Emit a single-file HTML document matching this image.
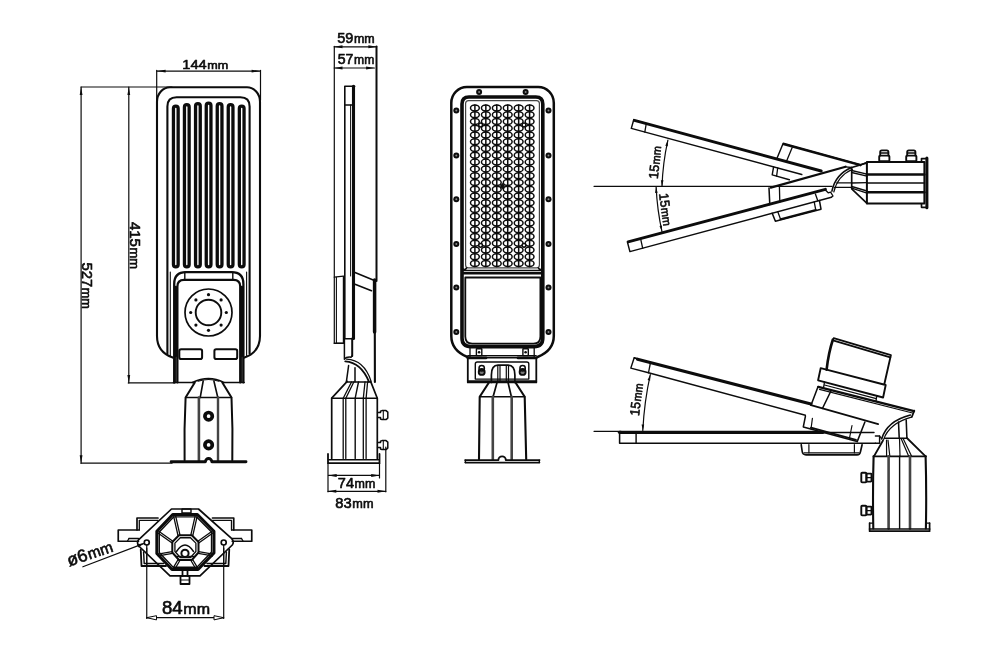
<!DOCTYPE html>
<html><head><meta charset="utf-8"><title>Street light dimensions</title>
<style>
html,body{margin:0;padding:0;background:#fff;}
body{width:1000px;height:654px;overflow:hidden;font-family:"Liberation Sans",sans-serif;}
svg{display:block;}
svg text{font-family:"Liberation Sans",sans-serif;fill:#0c0c0c;stroke:#0c0c0c;stroke-width:0.6px;}
svg{filter:grayscale(1);}
</style></head><body>
<svg width="1000" height="654" viewBox="0 0 1000 654" fill="none" stroke="#0c0c0c" stroke-linecap="round" stroke-linejoin="round">
<rect x="0" y="0" width="1000" height="654" fill="#fff" stroke="none"/>
<g id="v1">
<line x1="156.80" y1="71.10" x2="260.40" y2="71.10" stroke-width="1.2" />
<path d="M156.60,71.10 L165.60,69.70 L165.60,72.50 Z" fill="#0c0c0c" stroke="none"/>
<path d="M260.60,71.10 L251.60,72.50 L251.60,69.70 Z" fill="#0c0c0c" stroke="none"/>
<line x1="156.70" y1="70.40" x2="156.70" y2="100.00" stroke-width="1.2" />
<line x1="260.50" y1="70.40" x2="260.50" y2="100.00" stroke-width="1.2" />
<g class="txt"><text x="205.30" y="69.00" font-size="13.6" text-anchor="middle" textLength="46" lengthAdjust="spacingAndGlyphs" >144<tspan font-size="11.70" dx="0.6">mm</tspan></text></g>
<line x1="81.00" y1="87.00" x2="172.00" y2="87.00" stroke-width="1.2" />
<line x1="81.10" y1="87.00" x2="81.10" y2="463.20" stroke-width="1.2" />
<path d="M81.10,86.90 L82.50,94.90 L79.70,94.90 Z" fill="#0c0c0c" stroke="none"/>
<path d="M81.10,463.30 L79.70,455.30 L82.50,455.30 Z" fill="#0c0c0c" stroke="none"/>
<line x1="128.80" y1="87.00" x2="128.80" y2="382.90" stroke-width="1.2" />
<path d="M128.80,86.90 L130.20,94.90 L127.40,94.90 Z" fill="#0c0c0c" stroke="none"/>
<path d="M128.80,383.00 L127.40,375.00 L130.20,375.00 Z" fill="#0c0c0c" stroke="none"/>
<line x1="128.30" y1="382.90" x2="175.00" y2="382.90" stroke-width="1.2" />
<line x1="81.00" y1="463.20" x2="172.00" y2="463.20" stroke-width="1.2" />
<g class="txt"><text x="130.40" y="245.50" font-size="14.2" text-anchor="middle" transform="rotate(90 130.40 245.50)" textLength="47" lengthAdjust="spacingAndGlyphs" >415<tspan font-size="12.21" dx="0.6">mm</tspan></text></g>
<g class="txt"><text x="81.90" y="285.70" font-size="14.2" text-anchor="middle" transform="rotate(90 81.90 285.70)" textLength="46.5" lengthAdjust="spacingAndGlyphs" >527<tspan font-size="12.21" dx="0.6">mm</tspan></text></g>
<path d="M170,87.3 H247 A13,14.5 0 0 1 260,101.8 V336 Q260,352 244.5,357.6 M172.7,357.6 Q157,352 157,336 V101.8 A13,14.5 0 0 1 170,87.3" stroke-width="2.1" />
<path d="M167.4,353.5 V106.5 Q167.4,97.3 176.6,97.3 H240.4 Q249.6,97.3 249.6,106.5 V353.5" stroke-width="2.1" />
<path d="M170.3,355.5 V272 M246.6,355.5 V272" stroke-width="1.1" />
<rect x="173.45" y="106.15" width="4.70" height="160.70" rx="2.35" ry="2.35" stroke-width="3.3" />
<rect x="184.45" y="104.65" width="4.70" height="162.20" rx="2.35" ry="2.35" stroke-width="3.3" />
<rect x="195.55" y="103.65" width="4.70" height="163.20" rx="2.35" ry="2.35" stroke-width="3.3" />
<rect x="206.25" y="103.15" width="4.70" height="163.70" rx="2.35" ry="2.35" stroke-width="3.3" />
<rect x="217.25" y="103.65" width="4.70" height="163.20" rx="2.35" ry="2.35" stroke-width="3.3" />
<rect x="228.25" y="104.65" width="4.70" height="162.20" rx="2.35" ry="2.35" stroke-width="3.3" />
<rect x="239.35" y="106.15" width="4.70" height="160.70" rx="2.35" ry="2.35" stroke-width="3.3" />
<path d="M174.2,382.4 V284 Q174.2,272.2 186,272.2 H231.6 Q243.4,272.2 243.4,284 V382.4" stroke-width="2.3" />
<path d="M177.4,382.4 V286.5 Q177.4,279.9 184,279.9 H233.6 Q240.2,279.9 240.2,286.5 V382.4" stroke-width="2.2" />
<path d="M175.8,287 V356 M241.8,287 V356" stroke-width="2.4" />
<path d="M175.8,356 V382.4 M241.8,356 V382.4" stroke-width="1.4" />
<line x1="184.80" y1="272.20" x2="184.80" y2="279.90" stroke-width="1.4" />
<line x1="232.80" y1="272.20" x2="232.80" y2="279.90" stroke-width="1.4" />
<circle cx="208.50" cy="312.50" r="23.5" stroke-width="1.7" />
<circle cx="208.50" cy="312.50" r="12.8" stroke-width="1.9" />
<circle cx="226.30" cy="312.50" r="1.6" fill="#0c0c0c" stroke="none"/>
<circle cx="221.09" cy="325.09" r="1.6" fill="#0c0c0c" stroke="none"/>
<circle cx="208.50" cy="330.30" r="1.6" fill="#0c0c0c" stroke="none"/>
<circle cx="195.91" cy="325.09" r="1.6" fill="#0c0c0c" stroke="none"/>
<circle cx="190.70" cy="312.50" r="1.6" fill="#0c0c0c" stroke="none"/>
<circle cx="195.91" cy="299.91" r="1.6" fill="#0c0c0c" stroke="none"/>
<circle cx="208.50" cy="294.70" r="1.6" fill="#0c0c0c" stroke="none"/>
<circle cx="221.09" cy="299.91" r="1.6" fill="#0c0c0c" stroke="none"/>
<rect x="179.30" y="349.20" width="22.80" height="9.80" rx="1.8" ry="1.8" stroke-width="2.0" />
<rect x="214.40" y="349.20" width="22.80" height="9.80" rx="1.8" ry="1.8" stroke-width="2.0" />
<line x1="224.30" y1="382.60" x2="244.20" y2="382.60" stroke-width="1.5" />
<line x1="173.40" y1="382.60" x2="193.00" y2="382.60" stroke-width="1.5" />
<path d="M192.5,382.4 Q208.6,374.6 223.9,382.4" stroke-width="1.7" />
<path d="M198,381.2 Q208.6,377.8 219,381.2" stroke-width="1.1" />
<path d="M194.8,382.4 L185.6,397.5 Q184,430 184.6,460.2 M222.3,382.4 L231.5,397.5 Q233,430 232.3,460.2" stroke-width="2.0" />
<line x1="185.60" y1="397.50" x2="231.50" y2="397.50" stroke-width="1.5" />
<path d="M203.2,381 L200.2,397.5 M213.9,381 L217.8,397.5" stroke-width="1.6" />
<line x1="198.90" y1="397.50" x2="198.90" y2="460.40" stroke-width="2.6" stroke="#444"/>
<line x1="218.00" y1="397.50" x2="218.00" y2="460.40" stroke-width="2.4" stroke="#444"/>
<circle cx="208.60" cy="416.20" r="3.7" stroke-width="3.7" />
<circle cx="208.60" cy="444.90" r="3.7" stroke-width="3.7" />
<path d="M171.1,461.7 H205.4 A3.2,3.2 0 0 1 211.8,461.7 H246" stroke-width="2.9" />
</g>
<g id="v2">
<g class="txt"><text x="356.00" y="42.60" font-size="13.8" text-anchor="middle" textLength="37.5" lengthAdjust="spacingAndGlyphs" >59<tspan font-size="11.87" dx="0.6">mm</tspan></text></g>
<line x1="334.20" y1="46.80" x2="376.70" y2="46.80" stroke-width="1.2" />
<path d="M334.00,46.80 L342.50,45.30 L342.50,48.30 Z" fill="#0c0c0c" stroke="none"/>
<path d="M376.90,46.80 L368.40,48.30 L368.40,45.30 Z" fill="#0c0c0c" stroke="none"/>
<g class="txt"><text x="356.00" y="63.80" font-size="13.8" text-anchor="middle" textLength="36.5" lengthAdjust="spacingAndGlyphs" >57<tspan font-size="11.87" dx="0.6">mm</tspan></text></g>
<line x1="334.20" y1="68.00" x2="374.40" y2="68.00" stroke-width="1.2" />
<path d="M334.00,68.00 L342.50,66.50 L342.50,69.50 Z" fill="#0c0c0c" stroke="none"/>
<path d="M374.60,68.00 L366.10,69.50 L366.10,66.50 Z" fill="#0c0c0c" stroke="none"/>
<line x1="334.30" y1="46.40" x2="334.30" y2="343.20" stroke-width="1.2" />
<line x1="376.50" y1="46.40" x2="376.50" y2="281.00" stroke-width="2.0" />
<path d="M344.8,338.5 V86.3 H354.6" stroke-width="1.6" />
<line x1="353.50" y1="86.30" x2="353.50" y2="338.50" stroke-width="3.1" />
<line x1="344.80" y1="104.90" x2="352.50" y2="104.90" stroke-width="1.5" />
<line x1="350.60" y1="105.00" x2="350.60" y2="276.00" stroke-width="1.0" />
<path d="M334.3,277.2 L343.4,276.2" stroke-width="1.3" />
<path d="M336.4,277.2 V343.2 H343.4" stroke-width="1.1" />
<line x1="343.40" y1="276.40" x2="343.40" y2="343.20" stroke-width="1.2" />
<line x1="334.30" y1="343.20" x2="343.40" y2="343.20" stroke-width="1.6" />
<path d="M344.4,338.5 V359.2 Q346.5,356.5 351,357.2 L352.3,355.5" stroke-width="1.5" />
<line x1="352.20" y1="338.50" x2="352.20" y2="356.00" stroke-width="2.0" />
<line x1="344.40" y1="338.70" x2="353.50" y2="338.70" stroke-width="1.4" />
<path d="M355,272.5 L373.2,280 M355,284.3 L371.5,290.7" stroke-width="1.6" />
<line x1="374.60" y1="280.00" x2="374.60" y2="332.00" stroke-width="3.5" />
<line x1="374.80" y1="330.00" x2="374.90" y2="382.00" stroke-width="2.1" />
<path d="M345.3,361.4 Q361,362.5 368.9,381.7" stroke-width="1.9" />
<path d="M346.6,359.2 Q364,360 371,381" stroke-width="1.2" />
<path d="M348.6,365.6 L346.4,381.7 M355,367.8 V381.7" stroke-width="1.5" />
<path d="M346.4,382 H371" stroke-width="1.5" />
<path d="M347.2,381.4 L331.7,398.2 V458.5 M370.6,381.4 L377.3,398.2 V458.5" stroke-width="1.7" />
<line x1="331.70" y1="398.20" x2="377.30" y2="398.20" stroke-width="1.6" />
<path d="M351.5,382 L343.2,398.2 V458.5 M353.8,382 L345.8,398.2 V458.5" stroke-width="1.3" />
<path d="M358.5,382 L355.2,398.2 V458.5" stroke-width="1.4" />
<path d="M365,382 L363.3,398.2 V458.5 M367.6,382 L366.1,398.2 V458.5" stroke-width="1.3" />
<path d="M328,454 V463.2 H379.5 V454" stroke-width="1.8" />
<line x1="329.00" y1="459.80" x2="378.50" y2="459.80" stroke-width="1.6" />
<path d="M377.6,412.6 H380.5 V411.20000000000005 L382,410.6 H386 L387.8,412.1 V418.1 L386,419.6 H382 L380.5,419.0 V417.6 H377.6" stroke-width="1.5" />
<line x1="383.30" y1="410.90" x2="383.30" y2="419.30" stroke-width="1.1" />
<path d="M377.6,442.6 H380.5 V441.20000000000005 L382,440.6 H386 L387.8,442.1 V448.1 L386,449.6 H382 L380.5,449.0 V447.6 H377.6" stroke-width="1.5" />
<line x1="383.30" y1="440.90" x2="383.30" y2="449.30" stroke-width="1.1" />
<line x1="328.00" y1="463.20" x2="328.00" y2="491.80" stroke-width="1.2" />
<line x1="379.50" y1="463.20" x2="379.50" y2="478.00" stroke-width="1.2" />
<line x1="385.80" y1="447.00" x2="385.80" y2="491.80" stroke-width="1.2" />
<line x1="328.50" y1="475.40" x2="379.50" y2="475.40" stroke-width="1.2" />
<path d="M328.20,475.40 L336.70,473.90 L336.70,476.90 Z" fill="#0c0c0c" stroke="none"/>
<path d="M379.70,475.40 L371.20,476.90 L371.20,473.90 Z" fill="#0c0c0c" stroke="none"/>
<line x1="328.00" y1="491.30" x2="385.80" y2="491.30" stroke-width="1.2" />
<path d="M327.80,491.30 L336.30,489.80 L336.30,492.80 Z" fill="#0c0c0c" stroke="none"/>
<path d="M386.00,491.30 L377.50,492.80 L377.50,489.80 Z" fill="#0c0c0c" stroke="none"/>
<g class="txt"><text x="356.60" y="487.90" font-size="14.2" text-anchor="middle" textLength="37.5" lengthAdjust="spacingAndGlyphs" >74<tspan font-size="12.21" dx="0.6">mm</tspan></text></g>
<g class="txt"><text x="354.40" y="507.90" font-size="14.2" text-anchor="middle" textLength="38.2" lengthAdjust="spacingAndGlyphs" >83<tspan font-size="12.21" dx="0.6">mm</tspan></text></g>
</g>
<g id="v3">
<path d="M467,86.9 H538.2 A15.6,16 0 0 1 553.8,102.9 V336 Q553.8,350.5 537.5,357 M467.5,357 Q451.3,350.5 451.3,336 V102.9 A15.6,16 0 0 1 467,86.9" stroke-width="2.5" />
<path d="M462,338 V104 Q462,97 469,97 H535.8 Q542.8,97 542.8,104 V338 Q542.8,346.6 534,346.6 H471 Q462,346.6 462,338 Z" stroke-width="3.6" />
<path d="M465.6,265 V103.6 Q465.6,100.6 468.6,100.6 H536.4 Q539.4,100.6 539.4,103.6 V265 Q539.4,267.8 536.6,267.8 H468.4 Q465.6,267.8 465.6,265 Z" stroke-width="1.2" stroke="#444"/>
<g stroke-width="1.5"><ellipse cx="474.90" cy="108.00" rx="4.4" ry="3.0"/><path d="M474.90,105.00 V111.00"/><ellipse cx="485.84" cy="108.00" rx="4.4" ry="3.0"/><path d="M485.84,105.00 V111.00"/><ellipse cx="496.78" cy="108.00" rx="4.4" ry="3.0"/><path d="M496.78,105.00 V111.00"/><ellipse cx="507.72" cy="108.00" rx="4.4" ry="3.0"/><path d="M507.72,105.00 V111.00"/><ellipse cx="518.66" cy="108.00" rx="4.4" ry="3.0"/><path d="M518.66,105.00 V111.00"/><ellipse cx="529.60" cy="108.00" rx="4.4" ry="3.0"/><path d="M529.60,105.00 V111.00"/><ellipse cx="474.90" cy="114.77" rx="4.4" ry="3.0"/><path d="M474.90,111.77 V117.77"/><ellipse cx="485.84" cy="114.77" rx="4.4" ry="3.0"/><path d="M485.84,111.77 V117.77"/><ellipse cx="496.78" cy="114.77" rx="4.4" ry="3.0"/><path d="M496.78,111.77 V117.77"/><ellipse cx="507.72" cy="114.77" rx="4.4" ry="3.0"/><path d="M507.72,111.77 V117.77"/><ellipse cx="518.66" cy="114.77" rx="4.4" ry="3.0"/><path d="M518.66,111.77 V117.77"/><ellipse cx="529.60" cy="114.77" rx="4.4" ry="3.0"/><path d="M529.60,111.77 V117.77"/><ellipse cx="474.90" cy="121.53" rx="4.4" ry="3.0"/><path d="M474.90,118.53 V124.53"/><ellipse cx="485.84" cy="121.53" rx="4.4" ry="3.0"/><path d="M485.84,118.53 V124.53"/><ellipse cx="496.78" cy="121.53" rx="4.4" ry="3.0"/><path d="M496.78,118.53 V124.53"/><ellipse cx="507.72" cy="121.53" rx="4.4" ry="3.0"/><path d="M507.72,118.53 V124.53"/><ellipse cx="518.66" cy="121.53" rx="4.4" ry="3.0"/><path d="M518.66,118.53 V124.53"/><ellipse cx="529.60" cy="121.53" rx="4.4" ry="3.0"/><path d="M529.60,118.53 V124.53"/><ellipse cx="474.90" cy="128.29" rx="4.4" ry="3.0"/><path d="M474.90,125.29 V131.29"/><ellipse cx="485.84" cy="128.29" rx="4.4" ry="3.0"/><path d="M485.84,125.29 V131.29"/><ellipse cx="496.78" cy="128.29" rx="4.4" ry="3.0"/><path d="M496.78,125.29 V131.29"/><ellipse cx="507.72" cy="128.29" rx="4.4" ry="3.0"/><path d="M507.72,125.29 V131.29"/><ellipse cx="518.66" cy="128.29" rx="4.4" ry="3.0"/><path d="M518.66,125.29 V131.29"/><ellipse cx="529.60" cy="128.29" rx="4.4" ry="3.0"/><path d="M529.60,125.29 V131.29"/><ellipse cx="474.90" cy="135.06" rx="4.4" ry="3.0"/><path d="M474.90,132.06 V138.06"/><ellipse cx="485.84" cy="135.06" rx="4.4" ry="3.0"/><path d="M485.84,132.06 V138.06"/><ellipse cx="496.78" cy="135.06" rx="4.4" ry="3.0"/><path d="M496.78,132.06 V138.06"/><ellipse cx="507.72" cy="135.06" rx="4.4" ry="3.0"/><path d="M507.72,132.06 V138.06"/><ellipse cx="518.66" cy="135.06" rx="4.4" ry="3.0"/><path d="M518.66,132.06 V138.06"/><ellipse cx="529.60" cy="135.06" rx="4.4" ry="3.0"/><path d="M529.60,132.06 V138.06"/><ellipse cx="474.90" cy="141.82" rx="4.4" ry="3.0"/><path d="M474.90,138.82 V144.82"/><ellipse cx="485.84" cy="141.82" rx="4.4" ry="3.0"/><path d="M485.84,138.82 V144.82"/><ellipse cx="496.78" cy="141.82" rx="4.4" ry="3.0"/><path d="M496.78,138.82 V144.82"/><ellipse cx="507.72" cy="141.82" rx="4.4" ry="3.0"/><path d="M507.72,138.82 V144.82"/><ellipse cx="518.66" cy="141.82" rx="4.4" ry="3.0"/><path d="M518.66,138.82 V144.82"/><ellipse cx="529.60" cy="141.82" rx="4.4" ry="3.0"/><path d="M529.60,138.82 V144.82"/><ellipse cx="474.90" cy="148.59" rx="4.4" ry="3.0"/><path d="M474.90,145.59 V151.59"/><ellipse cx="485.84" cy="148.59" rx="4.4" ry="3.0"/><path d="M485.84,145.59 V151.59"/><ellipse cx="496.78" cy="148.59" rx="4.4" ry="3.0"/><path d="M496.78,145.59 V151.59"/><ellipse cx="507.72" cy="148.59" rx="4.4" ry="3.0"/><path d="M507.72,145.59 V151.59"/><ellipse cx="518.66" cy="148.59" rx="4.4" ry="3.0"/><path d="M518.66,145.59 V151.59"/><ellipse cx="529.60" cy="148.59" rx="4.4" ry="3.0"/><path d="M529.60,145.59 V151.59"/><ellipse cx="474.90" cy="155.35" rx="4.4" ry="3.0"/><path d="M474.90,152.35 V158.35"/><ellipse cx="485.84" cy="155.35" rx="4.4" ry="3.0"/><path d="M485.84,152.35 V158.35"/><ellipse cx="496.78" cy="155.35" rx="4.4" ry="3.0"/><path d="M496.78,152.35 V158.35"/><ellipse cx="507.72" cy="155.35" rx="4.4" ry="3.0"/><path d="M507.72,152.35 V158.35"/><ellipse cx="518.66" cy="155.35" rx="4.4" ry="3.0"/><path d="M518.66,152.35 V158.35"/><ellipse cx="529.60" cy="155.35" rx="4.4" ry="3.0"/><path d="M529.60,152.35 V158.35"/><ellipse cx="474.90" cy="162.12" rx="4.4" ry="3.0"/><path d="M474.90,159.12 V165.12"/><ellipse cx="485.84" cy="162.12" rx="4.4" ry="3.0"/><path d="M485.84,159.12 V165.12"/><ellipse cx="496.78" cy="162.12" rx="4.4" ry="3.0"/><path d="M496.78,159.12 V165.12"/><ellipse cx="507.72" cy="162.12" rx="4.4" ry="3.0"/><path d="M507.72,159.12 V165.12"/><ellipse cx="518.66" cy="162.12" rx="4.4" ry="3.0"/><path d="M518.66,159.12 V165.12"/><ellipse cx="529.60" cy="162.12" rx="4.4" ry="3.0"/><path d="M529.60,159.12 V165.12"/><ellipse cx="474.90" cy="168.88" rx="4.4" ry="3.0"/><path d="M474.90,165.88 V171.88"/><ellipse cx="485.84" cy="168.88" rx="4.4" ry="3.0"/><path d="M485.84,165.88 V171.88"/><ellipse cx="496.78" cy="168.88" rx="4.4" ry="3.0"/><path d="M496.78,165.88 V171.88"/><ellipse cx="507.72" cy="168.88" rx="4.4" ry="3.0"/><path d="M507.72,165.88 V171.88"/><ellipse cx="518.66" cy="168.88" rx="4.4" ry="3.0"/><path d="M518.66,165.88 V171.88"/><ellipse cx="529.60" cy="168.88" rx="4.4" ry="3.0"/><path d="M529.60,165.88 V171.88"/><ellipse cx="474.90" cy="175.65" rx="4.4" ry="3.0"/><path d="M474.90,172.65 V178.65"/><ellipse cx="485.84" cy="175.65" rx="4.4" ry="3.0"/><path d="M485.84,172.65 V178.65"/><ellipse cx="496.78" cy="175.65" rx="4.4" ry="3.0"/><path d="M496.78,172.65 V178.65"/><ellipse cx="507.72" cy="175.65" rx="4.4" ry="3.0"/><path d="M507.72,172.65 V178.65"/><ellipse cx="518.66" cy="175.65" rx="4.4" ry="3.0"/><path d="M518.66,172.65 V178.65"/><ellipse cx="529.60" cy="175.65" rx="4.4" ry="3.0"/><path d="M529.60,172.65 V178.65"/><ellipse cx="474.90" cy="182.41" rx="4.4" ry="3.0"/><path d="M474.90,179.41 V185.41"/><ellipse cx="485.84" cy="182.41" rx="4.4" ry="3.0"/><path d="M485.84,179.41 V185.41"/><ellipse cx="496.78" cy="182.41" rx="4.4" ry="3.0"/><path d="M496.78,179.41 V185.41"/><ellipse cx="507.72" cy="182.41" rx="4.4" ry="3.0"/><path d="M507.72,179.41 V185.41"/><ellipse cx="518.66" cy="182.41" rx="4.4" ry="3.0"/><path d="M518.66,179.41 V185.41"/><ellipse cx="529.60" cy="182.41" rx="4.4" ry="3.0"/><path d="M529.60,179.41 V185.41"/><ellipse cx="474.90" cy="189.18" rx="4.4" ry="3.0"/><path d="M474.90,186.18 V192.18"/><ellipse cx="485.84" cy="189.18" rx="4.4" ry="3.0"/><path d="M485.84,186.18 V192.18"/><ellipse cx="496.78" cy="189.18" rx="4.4" ry="3.0"/><path d="M496.78,186.18 V192.18"/><ellipse cx="507.72" cy="189.18" rx="4.4" ry="3.0"/><path d="M507.72,186.18 V192.18"/><ellipse cx="518.66" cy="189.18" rx="4.4" ry="3.0"/><path d="M518.66,186.18 V192.18"/><ellipse cx="529.60" cy="189.18" rx="4.4" ry="3.0"/><path d="M529.60,186.18 V192.18"/><ellipse cx="474.90" cy="195.94" rx="4.4" ry="3.0"/><path d="M474.90,192.94 V198.94"/><ellipse cx="485.84" cy="195.94" rx="4.4" ry="3.0"/><path d="M485.84,192.94 V198.94"/><ellipse cx="496.78" cy="195.94" rx="4.4" ry="3.0"/><path d="M496.78,192.94 V198.94"/><ellipse cx="507.72" cy="195.94" rx="4.4" ry="3.0"/><path d="M507.72,192.94 V198.94"/><ellipse cx="518.66" cy="195.94" rx="4.4" ry="3.0"/><path d="M518.66,192.94 V198.94"/><ellipse cx="529.60" cy="195.94" rx="4.4" ry="3.0"/><path d="M529.60,192.94 V198.94"/><ellipse cx="474.90" cy="202.71" rx="4.4" ry="3.0"/><path d="M474.90,199.71 V205.71"/><ellipse cx="485.84" cy="202.71" rx="4.4" ry="3.0"/><path d="M485.84,199.71 V205.71"/><ellipse cx="496.78" cy="202.71" rx="4.4" ry="3.0"/><path d="M496.78,199.71 V205.71"/><ellipse cx="507.72" cy="202.71" rx="4.4" ry="3.0"/><path d="M507.72,199.71 V205.71"/><ellipse cx="518.66" cy="202.71" rx="4.4" ry="3.0"/><path d="M518.66,199.71 V205.71"/><ellipse cx="529.60" cy="202.71" rx="4.4" ry="3.0"/><path d="M529.60,199.71 V205.71"/><ellipse cx="474.90" cy="209.47" rx="4.4" ry="3.0"/><path d="M474.90,206.47 V212.47"/><ellipse cx="485.84" cy="209.47" rx="4.4" ry="3.0"/><path d="M485.84,206.47 V212.47"/><ellipse cx="496.78" cy="209.47" rx="4.4" ry="3.0"/><path d="M496.78,206.47 V212.47"/><ellipse cx="507.72" cy="209.47" rx="4.4" ry="3.0"/><path d="M507.72,206.47 V212.47"/><ellipse cx="518.66" cy="209.47" rx="4.4" ry="3.0"/><path d="M518.66,206.47 V212.47"/><ellipse cx="529.60" cy="209.47" rx="4.4" ry="3.0"/><path d="M529.60,206.47 V212.47"/><ellipse cx="474.90" cy="216.24" rx="4.4" ry="3.0"/><path d="M474.90,213.24 V219.24"/><ellipse cx="485.84" cy="216.24" rx="4.4" ry="3.0"/><path d="M485.84,213.24 V219.24"/><ellipse cx="496.78" cy="216.24" rx="4.4" ry="3.0"/><path d="M496.78,213.24 V219.24"/><ellipse cx="507.72" cy="216.24" rx="4.4" ry="3.0"/><path d="M507.72,213.24 V219.24"/><ellipse cx="518.66" cy="216.24" rx="4.4" ry="3.0"/><path d="M518.66,213.24 V219.24"/><ellipse cx="529.60" cy="216.24" rx="4.4" ry="3.0"/><path d="M529.60,213.24 V219.24"/><ellipse cx="474.90" cy="223.00" rx="4.4" ry="3.0"/><path d="M474.90,220.00 V226.00"/><ellipse cx="485.84" cy="223.00" rx="4.4" ry="3.0"/><path d="M485.84,220.00 V226.00"/><ellipse cx="496.78" cy="223.00" rx="4.4" ry="3.0"/><path d="M496.78,220.00 V226.00"/><ellipse cx="507.72" cy="223.00" rx="4.4" ry="3.0"/><path d="M507.72,220.00 V226.00"/><ellipse cx="518.66" cy="223.00" rx="4.4" ry="3.0"/><path d="M518.66,220.00 V226.00"/><ellipse cx="529.60" cy="223.00" rx="4.4" ry="3.0"/><path d="M529.60,220.00 V226.00"/><ellipse cx="474.90" cy="229.77" rx="4.4" ry="3.0"/><path d="M474.90,226.77 V232.77"/><ellipse cx="485.84" cy="229.77" rx="4.4" ry="3.0"/><path d="M485.84,226.77 V232.77"/><ellipse cx="496.78" cy="229.77" rx="4.4" ry="3.0"/><path d="M496.78,226.77 V232.77"/><ellipse cx="507.72" cy="229.77" rx="4.4" ry="3.0"/><path d="M507.72,226.77 V232.77"/><ellipse cx="518.66" cy="229.77" rx="4.4" ry="3.0"/><path d="M518.66,226.77 V232.77"/><ellipse cx="529.60" cy="229.77" rx="4.4" ry="3.0"/><path d="M529.60,226.77 V232.77"/><ellipse cx="474.90" cy="236.53" rx="4.4" ry="3.0"/><path d="M474.90,233.53 V239.53"/><ellipse cx="485.84" cy="236.53" rx="4.4" ry="3.0"/><path d="M485.84,233.53 V239.53"/><ellipse cx="496.78" cy="236.53" rx="4.4" ry="3.0"/><path d="M496.78,233.53 V239.53"/><ellipse cx="507.72" cy="236.53" rx="4.4" ry="3.0"/><path d="M507.72,233.53 V239.53"/><ellipse cx="518.66" cy="236.53" rx="4.4" ry="3.0"/><path d="M518.66,233.53 V239.53"/><ellipse cx="529.60" cy="236.53" rx="4.4" ry="3.0"/><path d="M529.60,233.53 V239.53"/><ellipse cx="474.90" cy="243.30" rx="4.4" ry="3.0"/><path d="M474.90,240.30 V246.30"/><ellipse cx="485.84" cy="243.30" rx="4.4" ry="3.0"/><path d="M485.84,240.30 V246.30"/><ellipse cx="496.78" cy="243.30" rx="4.4" ry="3.0"/><path d="M496.78,240.30 V246.30"/><ellipse cx="507.72" cy="243.30" rx="4.4" ry="3.0"/><path d="M507.72,240.30 V246.30"/><ellipse cx="518.66" cy="243.30" rx="4.4" ry="3.0"/><path d="M518.66,240.30 V246.30"/><ellipse cx="529.60" cy="243.30" rx="4.4" ry="3.0"/><path d="M529.60,240.30 V246.30"/><ellipse cx="474.90" cy="250.06" rx="4.4" ry="3.0"/><path d="M474.90,247.06 V253.06"/><ellipse cx="485.84" cy="250.06" rx="4.4" ry="3.0"/><path d="M485.84,247.06 V253.06"/><ellipse cx="496.78" cy="250.06" rx="4.4" ry="3.0"/><path d="M496.78,247.06 V253.06"/><ellipse cx="507.72" cy="250.06" rx="4.4" ry="3.0"/><path d="M507.72,247.06 V253.06"/><ellipse cx="518.66" cy="250.06" rx="4.4" ry="3.0"/><path d="M518.66,247.06 V253.06"/><ellipse cx="529.60" cy="250.06" rx="4.4" ry="3.0"/><path d="M529.60,247.06 V253.06"/><ellipse cx="474.90" cy="256.83" rx="4.4" ry="3.0"/><path d="M474.90,253.83 V259.83"/><ellipse cx="485.84" cy="256.83" rx="4.4" ry="3.0"/><path d="M485.84,253.83 V259.83"/><ellipse cx="496.78" cy="256.83" rx="4.4" ry="3.0"/><path d="M496.78,253.83 V259.83"/><ellipse cx="507.72" cy="256.83" rx="4.4" ry="3.0"/><path d="M507.72,253.83 V259.83"/><ellipse cx="518.66" cy="256.83" rx="4.4" ry="3.0"/><path d="M518.66,253.83 V259.83"/><ellipse cx="529.60" cy="256.83" rx="4.4" ry="3.0"/><path d="M529.60,253.83 V259.83"/><ellipse cx="474.90" cy="263.60" rx="4.4" ry="3.0"/><path d="M474.90,260.60 V266.60"/><ellipse cx="485.84" cy="263.60" rx="4.4" ry="3.0"/><path d="M485.84,260.60 V266.60"/><ellipse cx="496.78" cy="263.60" rx="4.4" ry="3.0"/><path d="M496.78,260.60 V266.60"/><ellipse cx="507.72" cy="263.60" rx="4.4" ry="3.0"/><path d="M507.72,260.60 V266.60"/><ellipse cx="518.66" cy="263.60" rx="4.4" ry="3.0"/><path d="M518.66,260.60 V266.60"/><ellipse cx="529.60" cy="263.60" rx="4.4" ry="3.0"/><path d="M529.60,260.60 V266.60"/></g>
<circle cx="480.6" cy="125" r="1.9" fill="#fff" stroke-width="1.5"/>
<circle cx="524" cy="125" r="1.9" fill="#fff" stroke-width="1.5"/>
<circle cx="480.6" cy="245.3" r="1.9" fill="#fff" stroke-width="1.5"/>
<circle cx="524" cy="245.3" r="1.9" fill="#fff" stroke-width="1.5"/>
<path d="M499.8,186.2 H504.8 M502.3,183.7 V188.7 M500.6,184.5 L504,187.9 M504,184.5 L500.6,187.9" stroke-width="1.3"/>
<line x1="463.00" y1="270.40" x2="541.80" y2="270.40" stroke-width="1.3" />
<line x1="463.00" y1="273.10" x2="541.80" y2="273.10" stroke-width="2.6" />
<path d="M463.5,269 Q465,270.5 466.5,268 M541.3,269 Q540,270.5 538.5,268" stroke-width="1.6" />
<path d="M465.3,277.5 H540.4 V336.5 Q540.4,343.6 533.5,343.6 H472.2 Q465.3,343.6 465.3,336.5 Z" stroke-width="1.8" />
<circle cx="456.3" cy="110.4" r="3.0" fill="#0c0c0c" stroke="none"/><circle cx="456.3" cy="110.4" r="1.0" fill="#888" stroke="none"/>
<circle cx="548.5" cy="110.4" r="3.0" fill="#0c0c0c" stroke="none"/><circle cx="548.5" cy="110.4" r="1.0" fill="#888" stroke="none"/>
<circle cx="456.3" cy="155.6" r="3.0" fill="#0c0c0c" stroke="none"/><circle cx="456.3" cy="155.6" r="1.0" fill="#888" stroke="none"/>
<circle cx="548.5" cy="155.6" r="3.0" fill="#0c0c0c" stroke="none"/><circle cx="548.5" cy="155.6" r="1.0" fill="#888" stroke="none"/>
<circle cx="456.3" cy="199.2" r="3.0" fill="#0c0c0c" stroke="none"/><circle cx="456.3" cy="199.2" r="1.0" fill="#888" stroke="none"/>
<circle cx="548.5" cy="199.2" r="3.0" fill="#0c0c0c" stroke="none"/><circle cx="548.5" cy="199.2" r="1.0" fill="#888" stroke="none"/>
<circle cx="456.3" cy="244" r="3.0" fill="#0c0c0c" stroke="none"/><circle cx="456.3" cy="244" r="1.0" fill="#888" stroke="none"/>
<circle cx="548.5" cy="244" r="3.0" fill="#0c0c0c" stroke="none"/><circle cx="548.5" cy="244" r="1.0" fill="#888" stroke="none"/>
<circle cx="456.3" cy="287.6" r="3.0" fill="#0c0c0c" stroke="none"/><circle cx="456.3" cy="287.6" r="1.0" fill="#888" stroke="none"/>
<circle cx="548.5" cy="287.6" r="3.0" fill="#0c0c0c" stroke="none"/><circle cx="548.5" cy="287.6" r="1.0" fill="#888" stroke="none"/>
<circle cx="456.3" cy="332" r="3.0" fill="#0c0c0c" stroke="none"/><circle cx="456.3" cy="332" r="1.0" fill="#888" stroke="none"/>
<circle cx="548.5" cy="332" r="3.0" fill="#0c0c0c" stroke="none"/><circle cx="548.5" cy="332" r="1.0" fill="#888" stroke="none"/>
<circle cx="479.1" cy="91.9" r="3.0" fill="#0c0c0c" stroke="none"/><circle cx="479.1" cy="91.9" r="1.0" fill="#888" stroke="none"/>
<circle cx="525.6" cy="91.9" r="3.0" fill="#0c0c0c" stroke="none"/><circle cx="525.6" cy="91.9" r="1.0" fill="#888" stroke="none"/>
<line x1="467.80" y1="355.60" x2="536.30" y2="355.60" stroke-width="1.1" />
<line x1="470.00" y1="348.00" x2="470.00" y2="357.70" stroke-width="1.3" />
<line x1="534.20" y1="348.00" x2="534.20" y2="357.70" stroke-width="1.3" />
<path d="M467.8,357.7 H536.3 V382.4 H467.8 Z" stroke-width="1.8" />
<line x1="467.80" y1="357.90" x2="486.00" y2="357.90" stroke-width="2.6" />
<line x1="518.00" y1="357.90" x2="536.30" y2="357.90" stroke-width="2.6" />
<path d="M475.3,379.1 V364 Q475.3,362 477.3,362 H526.8 Q528.8,362 528.8,364 V379.1 Z" stroke-width="1.4" />
<rect x="476.40" y="348.70" width="5.40" height="6.90" rx="0.4" ry="0.4" stroke-width="1.4" />
<circle cx="479.1" cy="352.2" r="1.3" fill="#0c0c0c" stroke="none"/>
<rect x="522.90" y="348.70" width="5.40" height="6.90" rx="0.4" ry="0.4" stroke-width="1.4" />
<circle cx="525.6" cy="352.2" r="1.3" fill="#0c0c0c" stroke="none"/>
<circle cx="481.7" cy="371.9" r="3.9" fill="#0c0c0c" stroke="none"/><circle cx="481.7" cy="372.2" r="1.9" fill="#777" stroke="none"/>
<circle cx="481.70" cy="368.30" r="2.7" stroke-width="1.5" />
<circle cx="522.6" cy="371.9" r="3.9" fill="#0c0c0c" stroke="none"/><circle cx="522.6" cy="372.2" r="1.9" fill="#777" stroke="none"/>
<circle cx="522.60" cy="368.30" r="2.7" stroke-width="1.5" />
<path d="M491.4,382.4 V375 Q491.4,365.2 498,365.2 H508 Q514.9,365.2 514.9,375 V382.4" stroke-width="1.7" />
<line x1="497.80" y1="365.60" x2="497.80" y2="382.40" stroke-width="1.2" />
<line x1="500.00" y1="365.60" x2="500.00" y2="382.40" stroke-width="1.2" />
<line x1="506.30" y1="365.60" x2="506.30" y2="382.40" stroke-width="1.2" />
<line x1="508.50" y1="365.60" x2="508.50" y2="382.40" stroke-width="1.2" />
<line x1="468.80" y1="381.60" x2="535.60" y2="381.60" stroke-width="2.8" />
<path d="M489.1,382.3 L479.7,396.8 L479,459.3 M515.3,382.3 L524.7,396.8 L526.2,459.3" stroke-width="2.1" />
<line x1="479.70" y1="396.80" x2="524.70" y2="396.80" stroke-width="1.5" />
<path d="M497.1,382.3 L493.1,396.8 M508,382.3 L511.4,396.8" stroke-width="1.7" />
<line x1="492.80" y1="396.80" x2="492.80" y2="459.50" stroke-width="2.6" stroke="#444"/>
<line x1="511.70" y1="396.80" x2="511.70" y2="459.50" stroke-width="2.6" stroke="#444"/>
<path d="M465.2,460.1 H498.4 A3.7,3.7 0 0 1 505.8,460.1 H539.5" stroke-width="1.9" />
<path d="M465.2,462.6 H539.5" stroke-width="1.6" />
<line x1="465.40" y1="460.10" x2="465.40" y2="462.60" stroke-width="1.4" />
<line x1="539.30" y1="460.10" x2="539.30" y2="462.60" stroke-width="1.4" />
</g>
<g id="v4">
<line x1="594.00" y1="186.30" x2="832.00" y2="186.30" stroke-width="1.2" />
<path d="M633.80,119.50 L631.30,128.40 L801.80,174.52" stroke-width="1.43" />
<line x1="634.40" y1="120.40" x2="821.20" y2="171.00" stroke-width="2.9" />
<line x1="646.20" y1="124.00" x2="644.80" y2="132.20" stroke-width="1.31" />
<path d="M777.00,158.16 L783.20,143.30 L861.00,164.60" stroke-width="1.43" />
<line x1="783.60" y1="144.20" x2="860.50" y2="165.30" stroke-width="2.2" />
<line x1="792.20" y1="147.60" x2="786.70" y2="160.78" stroke-width="1.31" />
<path d="M773.60,166.89 L772.20,174.90 L789.40,179.80" stroke-width="1.43" />
<line x1="777.70" y1="168.00" x2="776.60" y2="176.20" stroke-width="1.31" />
<path d="M627.60,242.70 L629.90,251.60 L831.40,197.20" stroke-width="1.43" />
<line x1="628.10" y1="241.80" x2="825.40" y2="189.30" stroke-width="2.9" />
<line x1="640.70" y1="239.21" x2="642.70" y2="248.30" stroke-width="1.31" />
<line x1="815.40" y1="194.00" x2="817.80" y2="200.80" stroke-width="1.31" />
<path d="M825.40,190.00 L828.20,192.80 L830.60,192.20 L833.00,196.00 L831.40,197.20" stroke-width="1.31" />
<line x1="770.80" y1="187.60" x2="845.60" y2="166.70" stroke-width="2.2" />
<path d="M769.00,188.00 L769.80,204.60" stroke-width="1.54" />
<path d="M779.40,186.00 L779.80,202.00" stroke-width="1.31" />
<path d="M772.20,213.18 L775.40,221.20 L821.00,209.20 L819.40,200.44" stroke-width="1.54" />
<line x1="777.80" y1="211.67" x2="780.60" y2="219.40" stroke-width="1.31" />
<line x1="814.20" y1="201.84" x2="815.80" y2="210.20" stroke-width="1.31" />
<line x1="780.60" y1="219.20" x2="815.80" y2="209.90" stroke-width="2.0" />
<path d="M831.9,191.2 Q835.5,174 851.7,167.5" stroke-width="1.54" />
<path d="M833.8,192 Q837.5,176 852.5,169.3" stroke-width="1.2" />
<line x1="836.80" y1="182.80" x2="851.70" y2="182.80" stroke-width="1.31" />
<line x1="834.50" y1="187.30" x2="851.70" y2="187.30" stroke-width="1.31" />
<path d="M845.60,166.90 L851.70,167.50" stroke-width="1.43" />
<path d="M867.00,162.90 L851.70,167.50 L851.70,188.90 L867.00,203.40" stroke-width="1.66" />
<line x1="851.70" y1="170.50" x2="867.00" y2="174.10" stroke-width="1.31" />
<line x1="851.70" y1="172.50" x2="867.00" y2="176.20" stroke-width="1.31" />
<line x1="851.70" y1="183.00" x2="867.00" y2="182.70" stroke-width="1.31" />
<line x1="851.70" y1="186.50" x2="867.00" y2="191.00" stroke-width="1.31" />
<line x1="851.70" y1="188.20" x2="867.00" y2="193.10" stroke-width="1.31" />
<path d="M861.00,164.60 L867.00,162.30" stroke-width="1.43" />
<path d="M866.9,162 H924.4 V203.6 H866.9 Z" stroke-width="2.0" />
<line x1="926.90" y1="158.10" x2="926.90" y2="207.80" stroke-width="3.0" />
<path d="M921.5,158.6 H926 M921.5,158.6 V161.5 M921.5,207.3 H926 M921.5,207.3 V204" stroke-width="1.66" />
<line x1="866.90" y1="174.50" x2="924.40" y2="174.50" stroke-width="2.4" />
<line x1="866.90" y1="183.00" x2="924.40" y2="183.00" stroke-width="1.66" />
<line x1="866.90" y1="192.20" x2="924.40" y2="192.20" stroke-width="2.4" />
<path d="M880.1999999999999,155.6 V152 Q880.1999999999999,150.4 881.8,150.4 H886.8 Q888.4,150.4 888.4,152 V155.6" stroke-width="1.89" />
<rect x="879.20" y="155.60" width="10.20" height="5.60" rx="0.8" ry="0.8" stroke-width="1.89" />
<line x1="880.60" y1="153.00" x2="888.00" y2="153.00" stroke-width="1.31" />
<path d="M907.1999999999999,155.6 V152 Q907.1999999999999,150.4 908.8,150.4 H913.8 Q915.4,150.4 915.4,152 V155.6" stroke-width="1.89" />
<rect x="906.20" y="155.60" width="10.20" height="5.60" rx="0.8" ry="0.8" stroke-width="1.89" />
<line x1="907.60" y1="153.00" x2="915.00" y2="153.00" stroke-width="1.31" />
<path d="M667.9,140.1 Q662.8,163 662,186.3" stroke-width="1.2" />
<path d="M667.90,140.10 L667.83,146.24 L665.27,145.65 Z" fill="#0c0c0c" stroke="none"/>
<path d="M662.00,186.30 L660.90,180.26 L663.52,180.35 Z" fill="#0c0c0c" stroke="none"/>
<path d="M656.1,186.9 Q657.2,210 662,231.7" stroke-width="1.2" />
<path d="M656.10,186.90 L657.62,192.85 L655.00,192.94 Z" fill="#0c0c0c" stroke="none"/>
<path d="M662.00,231.70 L659.47,226.10 L662.03,225.56 Z" fill="#0c0c0c" stroke="none"/>
<g class="txt"><text x="659.60" y="162.90" font-size="13.2" text-anchor="middle" transform="rotate(-84 659.60 162.90)" textLength="33" lengthAdjust="spacingAndGlyphs" >15<tspan font-size="11.35" dx="0.6">mm</tspan></text></g>
<g class="txt"><text x="661.20" y="210.00" font-size="13.2" text-anchor="middle" transform="rotate(82.6 661.20 210.00)" textLength="33" lengthAdjust="spacingAndGlyphs" >15<tspan font-size="11.35" dx="0.6">mm</tspan></text></g>
</g>
<g id="v5">
<line x1="594.00" y1="431.30" x2="621.00" y2="431.30" stroke-width="1.2" />
<path d="M619.6,431.8 V443.2 H875.4" stroke-width="1.54" />
<line x1="619.50" y1="432.30" x2="823.00" y2="432.30" stroke-width="3.2" />
<line x1="823.00" y1="432.50" x2="874.00" y2="432.50" stroke-width="1.43" />
<line x1="636.10" y1="432.00" x2="636.10" y2="443.20" stroke-width="1.43" />
<path d="M875.4,436 H879.6 V443.2 H875.4" stroke-width="1.43" />
<path d="M801.2,444.7 L802.2,451.5 Q802.6,454.9 806,454.9 H857 Q860,454.9 860.4,452 L862.1,444.7" stroke-width="1.66" />
<line x1="804.00" y1="452.80" x2="859.00" y2="452.80" stroke-width="1.31" />
<line x1="808.90" y1="444.70" x2="808.90" y2="452.80" stroke-width="1.2" />
<line x1="854.40" y1="444.70" x2="854.40" y2="452.80" stroke-width="1.2" />
<path d="M634.20,357.70 L630.80,368.10 L648.50,372.80 L805.40,415.24" stroke-width="1.43" />
<line x1="637.50" y1="359.20" x2="811.00" y2="403.99" stroke-width="3.0" />
<line x1="634.40" y1="357.90" x2="638.00" y2="358.90" stroke-width="1.66" />
<line x1="650.50" y1="362.30" x2="648.50" y2="372.80" stroke-width="1.31" />
<line x1="811.00" y1="405.20" x2="878.20" y2="424.10" stroke-width="1.77" />
<path d="M811.00,405.20 L818.10,386.60" stroke-width="1.54" />
<line x1="818.30" y1="386.90" x2="914.00" y2="411.20" stroke-width="2.3" />
<line x1="831.10" y1="390.60" x2="822.50" y2="408.40" stroke-width="1.43" />
<line x1="819.50" y1="389.40" x2="912.50" y2="413.00" stroke-width="1.2" />
<path d="M914.30,410.60 L911.80,417.00" stroke-width="1.77" />
<path d="M805.40,416.40 L803.30,426.90 L857.20,441.60 L864.90,422.00" stroke-width="1.54" />
<line x1="812.40" y1="418.40" x2="811.00" y2="429.00" stroke-width="1.2" />
<line x1="811.00" y1="427.60" x2="856.00" y2="439.90" stroke-width="1.89" />
<line x1="852.00" y1="425.50" x2="849.50" y2="438.00" stroke-width="1.2" />
<path d="M833.7,338.2 L890.9,355.1 L884.4,383.7" stroke-width="1.89" />
<path d="M832.9,339.5 Q828.5,353 826.6,369.6" stroke-width="2.6" />
<line x1="833.80" y1="340.60" x2="890.30" y2="357.40" stroke-width="1.77" />
<path d="M820.70,368.10 L818.10,380.30 L883.10,397.50 L885.70,385.00 Z" stroke-width="1.89" />
<line x1="824.50" y1="382.00" x2="823.50" y2="387.80" stroke-width="1.31" />
<line x1="876.80" y1="395.90" x2="876.00" y2="401.00" stroke-width="1.31" />
<line x1="824.50" y1="385.00" x2="876.20" y2="398.70" stroke-width="1.2" />
<path d="M881.7,438.8 Q887,421 910.4,415" stroke-width="1.66" />
<path d="M883.6,439.6 Q889,423.5 911.4,417.2" stroke-width="1.2" />
<path d="M879.6,436 L881.7,438.8" stroke-width="1.2" />
<path d="M898.5,422 L899.2,437.6 M906.2,419.9 L906.9,437.6" stroke-width="1.54" />
<path d="M884.6,438.3 H906.9" stroke-width="1.54" />
<path d="M883,440.5 L874,456.3 M906.9,438 L925.6,456.3" stroke-width="1.77" />
<line x1="873.50" y1="456.30" x2="926.00" y2="456.30" stroke-width="1.77" />
<path d="M886.5,440 L886.6,456 M888,440 L889.8,456" stroke-width="1.2" />
<path d="M899.5,438.3 L900,456" stroke-width="1.2" />
<path d="M901,438.3 L908.6,456 M903,438.3 L911.5,456" stroke-width="1.2" />
<path d="M873.6,456.3 Q872.6,490 873.3,528.5 M925.6,456.3 Q926.6,490 925.9,528.5" stroke-width="2.1" />
<line x1="888.60" y1="456.30" x2="888.60" y2="528.50" stroke-width="2.6" stroke="#444"/>
<line x1="899.60" y1="456.30" x2="899.60" y2="528.50" stroke-width="1.4" />
<line x1="910.00" y1="456.30" x2="910.00" y2="528.50" stroke-width="2.6" stroke="#444"/>
<path d="M869.6,523 V531.2 H929.6 V523" stroke-width="1.7" />
<line x1="869.60" y1="529.00" x2="929.60" y2="529.00" stroke-width="1.7" />
<line x1="869.60" y1="523.20" x2="873.30" y2="523.20" stroke-width="1.3" />
<line x1="925.90" y1="523.20" x2="929.60" y2="523.20" stroke-width="1.3" />
<rect x="861.30" y="472.80" width="5.00" height="9.60" rx="0.8" ry="0.8" stroke-width="1.9" />
<rect x="866.60" y="473.60" width="4.80" height="8.00" rx="0.5" ry="0.5" stroke-width="1.7" />
<line x1="866.40" y1="477.60" x2="871.40" y2="477.60" stroke-width="1.2" />
<rect x="861.30" y="505.80" width="5.00" height="9.60" rx="0.8" ry="0.8" stroke-width="1.9" />
<rect x="866.60" y="506.60" width="4.80" height="8.00" rx="0.5" ry="0.5" stroke-width="1.7" />
<line x1="866.40" y1="510.60" x2="871.40" y2="510.60" stroke-width="1.2" />
<path d="M650.3,374.6 Q644.2,402 642.8,430.5" stroke-width="1.2" />
<path d="M650.30,374.60 L650.12,380.74 L647.58,380.10 Z" fill="#0c0c0c" stroke="none"/>
<path d="M642.80,430.50 L641.59,424.48 L644.21,424.52 Z" fill="#0c0c0c" stroke="none"/>
<g class="txt"><text x="641.00" y="400.00" font-size="13.4" text-anchor="middle" transform="rotate(-83 641.00 400.00)" textLength="32.5" lengthAdjust="spacingAndGlyphs" >15<tspan font-size="11.52" dx="0.6">mm</tspan></text></g>
</g>
<g id="v6">
<path d="M158,518 H137 V530 M212.5,518 H233.75 V530" stroke-width="1.7" />
<path d="M158,520.3 H139.3 V530 M212.5,520.3 H231.5 V530" stroke-width="1.31" />
<path d="M139,530 H118.25 V541.25 H138.5 M232,530 H251.75 V541.25 H232.3" stroke-width="1.7" />
<line x1="129.00" y1="538.50" x2="138.50" y2="538.50" stroke-width="1.31" />
<line x1="129.00" y1="538.50" x2="127.50" y2="541.00" stroke-width="1.31" />
<line x1="232.30" y1="538.50" x2="241.50" y2="538.50" stroke-width="1.31" />
<line x1="241.50" y1="538.50" x2="243.00" y2="541.00" stroke-width="1.31" />
<path d="M140.75,549.5 L141.5,566 H166 M229.25,549.5 L228.5,566 H204.5" stroke-width="1.8" />
<path d="M143.6,552 L144.2,563.5 H163.5 M226.4,552 L225.8,563.5 H207" stroke-width="1.43" />
<path d="M146.75,548 V566 M223.7,548 V566" stroke-width="1.2" />
<rect x="182.00" y="509.00" width="9.00" height="4.00" rx="0.3" ry="0.3" stroke-width="1.43" />
<path d="M171.5,509 H198.5 L231.5,538.3 Q234.6,541.6 232.3,545 L200,575.8 H170 L139.3,546.5 Q136.2,543 138.5,539.8 Z" stroke-width="1.7" />
<path d="M172.76,514.50 L197.37,514.50 L213.96,531.19 L213.96,552.90 L198.04,569.50 L171.99,569.50 L156.84,553.58 L156.84,531.19 Z" stroke-width="3.0" />
<path d="M173.83,516.84 L196.35,516.84 L211.54,532.11 L211.54,551.98 L196.97,567.16 L173.13,567.16 L159.26,552.60 L159.26,532.11 Z" stroke-width="1.43" />
<path d="M179.00,535.30 L191.80,535.30 L198.50,542.00 L198.50,552.50 L191.80,560.00 L179.00,560.00 L172.30,552.50 L172.30,542.00 Z" stroke-width="2.0" />
<path d="M180.28,537.76 L190.52,537.76 L195.88,543.12 L195.88,551.52 L190.52,557.52 L180.28,557.52 L174.92,551.52 L174.92,543.12 Z" stroke-width="1.31" />
<line x1="179.98" y1="535.08" x2="175.68" y2="516.08" stroke-width="1.31" />
<line x1="178.02" y1="535.52" x2="173.72" y2="516.52" stroke-width="1.31" />
<line x1="192.78" y1="535.52" x2="197.08" y2="516.52" stroke-width="1.31" />
<line x1="190.82" y1="535.08" x2="195.12" y2="516.08" stroke-width="1.31" />
<line x1="199.08" y1="542.82" x2="213.18" y2="532.82" stroke-width="1.31" />
<line x1="197.92" y1="541.18" x2="212.02" y2="531.18" stroke-width="1.31" />
<line x1="198.33" y1="553.48" x2="212.43" y2="555.98" stroke-width="1.31" />
<line x1="198.67" y1="551.52" x2="212.77" y2="554.02" stroke-width="1.31" />
<line x1="190.94" y1="560.51" x2="195.74" y2="568.71" stroke-width="1.31" />
<line x1="192.66" y1="559.49" x2="197.46" y2="567.69" stroke-width="1.31" />
<line x1="178.14" y1="559.49" x2="173.34" y2="567.69" stroke-width="1.31" />
<line x1="179.86" y1="560.51" x2="175.06" y2="568.71" stroke-width="1.31" />
<line x1="172.13" y1="551.52" x2="158.03" y2="554.02" stroke-width="1.31" />
<line x1="172.47" y1="553.48" x2="158.37" y2="555.98" stroke-width="1.31" />
<line x1="172.88" y1="541.18" x2="158.78" y2="531.18" stroke-width="1.31" />
<line x1="171.72" y1="542.82" x2="157.62" y2="532.82" stroke-width="1.31" />
<circle cx="185.00" cy="553.30" r="3.6" stroke-width="2.0" />
<path d="M176.5,551.5 Q185,538.5 193.5,551.5" stroke-width="1.43" />
<line x1="176.50" y1="556.50" x2="181.30" y2="556.50" stroke-width="1.31" />
<line x1="188.70" y1="556.50" x2="193.50" y2="556.50" stroke-width="1.31" />
<circle cx="146.75" cy="542.50" r="2.5" stroke-width="1.66" />
<circle cx="223.70" cy="542.50" r="2.5" stroke-width="1.66" />
<path d="M182.5,568.5 H187.5 V576 H189.5 V584 H180.5 V576 H182.5 Z" stroke-width="1.77" />
<line x1="182.50" y1="576.00" x2="187.50" y2="576.00" stroke-width="1.31" />
<line x1="180.50" y1="580.00" x2="189.50" y2="580.00" stroke-width="1.2" />
<line x1="146.75" y1="545.00" x2="146.75" y2="618.40" stroke-width="1.2" />
<line x1="223.70" y1="545.00" x2="223.70" y2="618.40" stroke-width="1.2" />
<line x1="146.75" y1="617.60" x2="223.70" y2="617.60" stroke-width="1.2" />
<path d="M147,617.6 L156.5,615.7 V619.5 Z M223.4,617.6 L214,615.7 V619.5 Z" fill="#fff" stroke-width="1.0"/>
<g class="txt"><text x="186.00" y="614.30" font-size="17.5" text-anchor="middle" textLength="48" lengthAdjust="spacingAndGlyphs" >84<tspan font-size="15.05" dx="0.6">mm</tspan></text></g>
<line x1="82.90" y1="566.80" x2="143.50" y2="543.60" stroke-width="1.2" />
<path d="M144.20,543.30 L138.30,547.46 L137.03,544.16 Z" fill="#0c0c0c" stroke="none"/>
<g class="txt"><text x="69.20" y="566.60" font-size="17.5" text-anchor="start" transform="rotate(-19 69.20 566.60)" textLength="47.5" lengthAdjust="spacingAndGlyphs" >ø6<tspan font-size="15.5" dx="0.8">mm</tspan></text></g>
</g>
</svg>
</body></html>
